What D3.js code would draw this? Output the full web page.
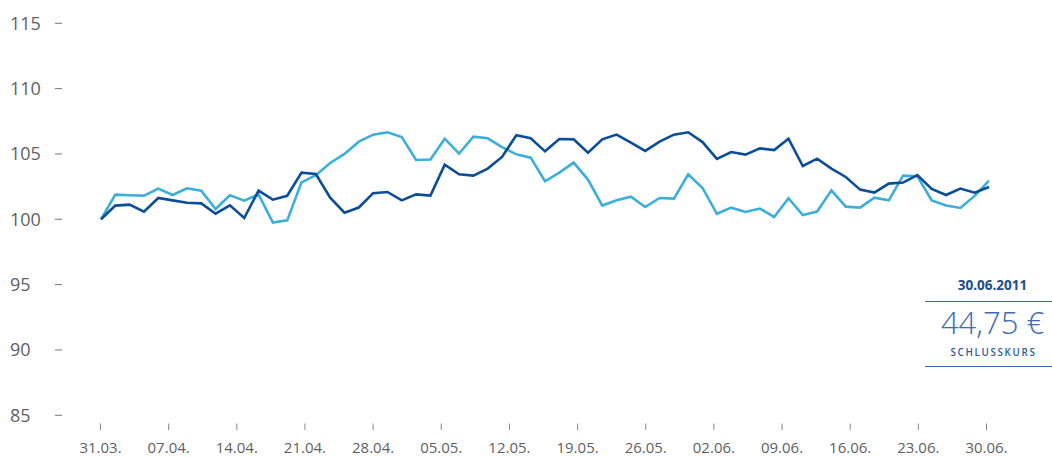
<!DOCTYPE html>
<html>
<head>
<meta charset="utf-8">
<script src="https://cdn.jsdelivr.net/npm/d3@7"></script>
<style>
  html, body { margin: 0; padding: 0; background: #fff; }
  svg { display: block; font-family: "Open Sans", sans-serif; }
</style>
</head>
<body>
<svg id="chart" width="1052" height="458"></svg>
<script>
// ---- data (indexed, start = 100) ----
const darkSeries = [
  100.0, 101.05, 101.12, 100.59, 101.63, 101.45, 101.27, 101.22, 100.43, 101.07,
  100.1, 102.19, 101.5, 101.8, 103.57, 103.47, 101.66, 100.51, 100.9, 102.0,
  102.09, 101.45, 101.91, 101.81, 104.18, 103.44, 103.34, 103.88, 104.77, 106.43,
  106.2, 105.2, 106.14, 106.12, 105.1, 106.12, 106.48, 105.87, 105.23, 105.94,
  106.48, 106.66, 105.91, 104.62, 105.15, 104.95, 105.43, 105.3, 106.17, 104.08,
  104.64, 103.88, 103.24, 102.27, 102.04, 102.73, 102.81, 103.39, 102.32, 101.86,
  102.35, 102.04, 102.47
];
const lightSeries = [
  100.0, 101.89, 101.84, 101.81, 102.35, 101.86, 102.37, 102.19, 100.79, 101.84,
  101.43, 101.91, 99.75, 99.92, 102.83, 103.37, 104.31, 105.0, 105.94, 106.48,
  106.66, 106.3, 104.54, 104.57, 106.17, 105.03, 106.33, 106.2, 105.53, 104.97,
  104.72, 102.91, 103.57, 104.34, 103.04, 101.05, 101.45, 101.73, 100.94, 101.63,
  101.58, 103.44, 102.4, 100.42, 100.89, 100.56, 100.82, 100.18, 101.61, 100.33,
  100.59, 102.22, 100.97, 100.89, 101.66, 101.45, 103.34, 103.29, 101.45, 101.05,
  100.87, 101.79, 102.96
];
const xTickLabels = ["31.03.", "07.04.", "14.04.", "21.04.", "28.04.", "05.05.", "12.05.",
                     "19.05.", "26.05.", "02.06.", "09.06.", "16.06.", "23.06.", "30.06."];
const yTicks = [85, 90, 95, 100, 105, 110, 115];
const tickYear = 2011;
const annotationDate = "30.06.2011";
const annotationValue = "44,75 €";
const annotationLabel = "SCHLUSSKURS";

// ---- chart ----
const svg = d3.select("#chart");

const x = d3.scaleLinear().domain([0, darkSeries.length - 1]).range([101, 989]);
const y = d3.scaleLinear().domain([85, 115]).range([415.3, 23.3]);

const parseTick = s => {
  const [d, m] = s.split(".").map(Number);
  return new Date(tickYear, m - 1, d);
};
const tickDates = xTickLabels.map(parseTick);
const xt = d3.scaleTime()
  .domain([tickDates[0], tickDates[tickDates.length - 1]])
  .range([100.5, 986.5]);

// y axis
const yAxis = svg.append("g").attr("class", "y-axis");
yAxis.selectAll("line").data(yTicks).join("line")
  .attr("x1", 55).attr("x2", 62)
  .attr("y1", d => y(d)).attr("y2", d => y(d))
  .attr("stroke", "#777").attr("stroke-width", 1);
yAxis.selectAll("text").data(yTicks).join("text")
  .attr("x", 10).attr("y", d => y(d))
  .attr("dy", "0.35em")
  .attr("font-size", 18)
  .attr("fill", "#5f5f5f")
  .text(d => d);

// x axis
const xAxis = svg.append("g").attr("class", "x-axis");
xAxis.selectAll("line").data(tickDates).join("line")
  .attr("x1", d => xt(d)).attr("x2", d => xt(d))
  .attr("y1", 423.5).attr("y2", 430)
  .attr("stroke", "#888").attr("stroke-width", 1);
xAxis.selectAll("text").data(xTickLabels).join("text")
  .attr("x", (d, i) => xt(tickDates[i]))
  .attr("y", 453)
  .attr("text-anchor", "middle")
  .attr("font-size", 15)
  .attr("fill", "#5f5f5f")
  .text(d => d);

// lines
const line = d3.line().x((d, i) => x(i)).y(d => y(d));
svg.append("path").datum(lightSeries)
  .attr("d", line).attr("fill", "none")
  .attr("stroke", "#3bafda").attr("stroke-width", 2.6)
  .attr("stroke-linejoin", "miter");
svg.append("path").datum(darkSeries)
  .attr("d", line).attr("fill", "none")
  .attr("stroke", "#0b4d97").attr("stroke-width", 2.6)
  .attr("stroke-linejoin", "miter");

// annotation
const ann = svg.append("g").attr("class", "annotation");
const cx = 992.5;
ann.append("text").attr("x", cx).attr("y", 289.5)
  .attr("text-anchor", "middle").attr("font-size", 13.5).attr("font-weight", 700)
  .attr("fill", "#1d4d8c").text(annotationDate);
ann.append("line").attr("x1", 925).attr("x2", 1052).attr("y1", 301.5).attr("y2", 301.5)
  .attr("stroke", "#3a6aae").attr("stroke-width", 1.2);
ann.append("text").attr("x", cx).attr("y", 334)
  .attr("text-anchor", "middle").attr("font-size", 31).attr("font-weight", 300)
  .attr("fill", "#3d6db0").text(annotationValue);
ann.append("text").attr("x", cx + 1).attr("y", 355.5)
  .attr("text-anchor", "middle").attr("font-size", 9.8).attr("font-weight", 600)
  .attr("letter-spacing", 1.7)
  .attr("fill", "#2b5c9e").text(annotationLabel);
ann.append("line").attr("x1", 925).attr("x2", 1052).attr("y1", 366.5).attr("y2", 366.5)
  .attr("stroke", "#3a6aae").attr("stroke-width", 1.2);
</script>
</body>
</html>
